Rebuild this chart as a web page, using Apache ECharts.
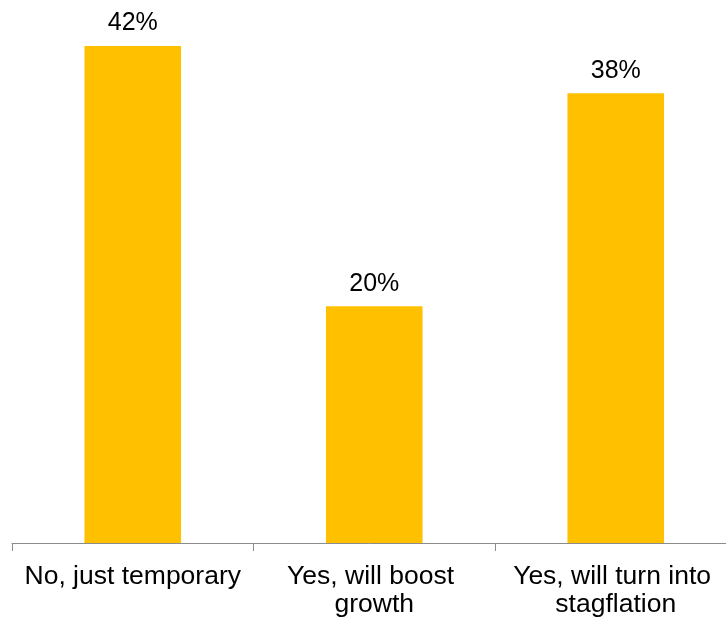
<!DOCTYPE html>
<html>
<head>
<meta charset="utf-8">
<script src="https://cdn.jsdelivr.net/npm/echarts@6/dist/echarts.min.js"></script>
<style>
html,body{margin:0;padding:0;background:#fff;}
#chart{width:726px;height:619px;}
</style>
</head>
<body>
<div id="chart"></div>
<script>
const categories = ["No, just temporary", "Yes, will boost growth", "Yes, will turn into stagflation"];
const values = [42, 20, 38];

const chart = echarts.init(document.getElementById('chart'), null, {renderer: 'canvas'});
chart.setOption({
  animation: false,
  backgroundColor: '#ffffff',
  grid: {left: 12, width: 724.5, top: 46, bottom: 76, containLabel: false, outerBoundsMode: 'none'},
  xAxis: {
    type: 'category',
    data: categories,
    boundaryGap: true,
    axisLine: {show: true, lineStyle: {color: '#8c8c8c', width: 1}},
    axisTick: {show: true, length: 8, alignWithLabel: false, lineStyle: {color: '#8c8c8c'}},
    axisLabel: {
      interval: 0,
      color: '#000000',
      fontFamily: 'Liberation Sans, Arial, sans-serif',
      fontSize: 26.5,
      lineHeight: 28,
      margin: 20,
      width: 228,
      overflow: 'break'
    },
    splitLine: {show: false}
  },
  yAxis: {
    type: 'value',
    min: 0,
    max: 42,
    show: false,
    splitLine: {show: false}
  },
  series: [{
    type: 'bar',
    data: values,
    barWidth: '40%',
    itemStyle: {color: '#FFC000'},
    label: {
      show: true,
      position: 'top',
      distance: 10,
      color: '#000000',
      fontFamily: 'Liberation Sans, Arial, sans-serif',
      fontSize: 25,
      formatter: p => p.value + '%'
    }
  }]
});
</script>
</body>
</html>
